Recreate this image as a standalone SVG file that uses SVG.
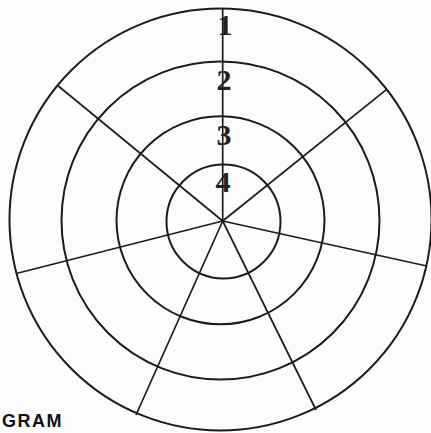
<svg xmlns="http://www.w3.org/2000/svg" width="431" height="433" viewBox="0 0 431 433">
<style>
.ring{fill:none;stroke:#1c1c1c;stroke-width:2}
.spoke{stroke:#1c1c1c;stroke-width:1.7;fill:none}
.num{font-family:"Liberation Serif",serif;font-weight:bold;font-size:30px;fill:#222;text-anchor:middle}
.cap{font-family:"Liberation Sans",Arial,sans-serif;font-weight:bold;font-size:18px;letter-spacing:1.5px;fill:#111}
</style>
<rect width="431" height="433" fill="#fcfcfc"/>
<g id="rings">
<circle id="ring1" class="ring" cx="220.5" cy="219.5" r="211"/>
<circle id="ring2" class="ring" cx="220.5" cy="220.5" r="159"/>
<circle id="ring3" class="ring" cx="220.5" cy="220.3" r="104"/>
<circle id="ring4" class="ring" cx="223.5" cy="221.5" r="57"/>
</g>
<g id="connectors">
<line class="spoke" x1="222.7" y1="221" x2="222.7" y2="8"/>
<line class="spoke" x1="222.7" y1="221" x2="58.3" y2="86"/>
<line class="spoke" x1="222.7" y1="221" x2="386.7" y2="89.3"/>
<line class="spoke" x1="222.7" y1="221" x2="17.3" y2="273.3"/>
<line class="spoke" x1="222.7" y1="221" x2="426.7" y2="266"/>
<line class="spoke" x1="222.7" y1="221" x2="136" y2="415"/>
<line class="spoke" x1="222.7" y1="221" x2="316" y2="410"/>
</g>
<g id="labels">
<text class="num" x="225" y="35">1</text>
<text class="num" x="224" y="90">2</text>
<text class="num" x="224" y="145">3</text>
<text class="num" x="223" y="192">4</text>
</g>
<text class="cap" x="2" y="427">GRAM</text>
</svg>
